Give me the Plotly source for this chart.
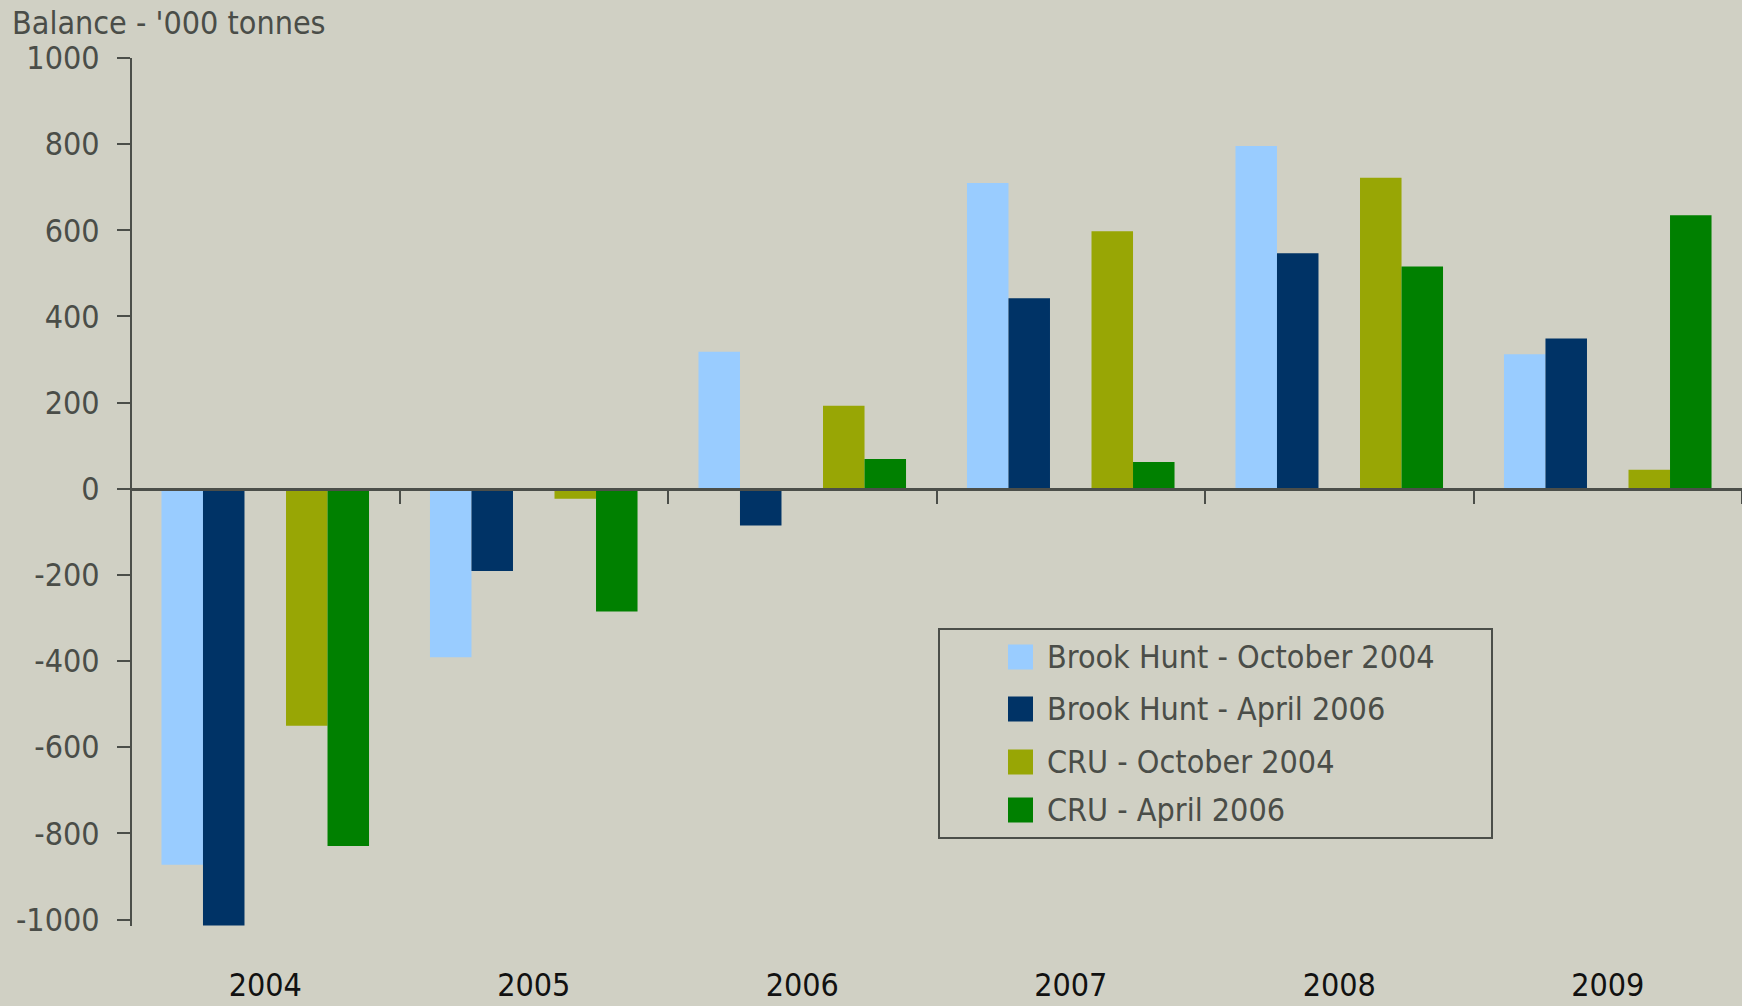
import plotly.graph_objects as go

# ---------------- data ----------------
years = ["2004", "2005", "2006", "2007", "2008", "2009"]
bh_oct04 = [-873, -391, 318, 710, 796, 312]
bh_apr06 = [-1014, -191, -85, 442, 547, 349]
cru_oct04 = [-550, -23, 193, 598, 722, 44]
cru_apr06 = [-829, -285, 69, 62, 516, 635]
series_names = ["Brook Hunt - October 2004", "Brook Hunt - April 2006",
                "CRU - October 2004", "CRU - April 2006"]
y_tick_values = [-1000, -800, -600, -400, -200, 0, 200, 400, 600, 800, 1000]
y_tick_labels = ["-1000", "-800", "-600", "-400", "-200", "0",
                 "200", "400", "600", "800", "1000"]
y_title = "Balance - '000 tonnes"

# ---------------- style ----------------
colors = ["#99CCFF", "#003366", "#98A605", "#008000"]
BG = "#D0D0C4"
AXIS = "#4B4E49"
TXT = "#4A4D48"
FONT = "DejaVu Sans Condensed, Liberation Sans Narrow, sans-serif"
FS = 32

W, H = 1742, 1006
L, R, T, B = 131, 0, 58, 80
YMIN, YMAX = -1015, 1000


def px_x(px):
    return (px - L) / (W - L - R)


def px_y(py):
    return 1 - (py - T) / (H - T - B)


fig = go.Figure()
series_vals = [bh_oct04, bh_apr06, cru_oct04, cru_apr06]
for i in range(2):
    fig.add_trace(go.Bar(x=years, y=series_vals[i], name=series_names[i],
                         marker=dict(color=colors[i], line=dict(width=0)),
                         showlegend=False))
# empty slot between the Brook Hunt pair and the CRU pair
fig.add_trace(go.Bar(x=years, y=[None] * len(years), showlegend=False,
                     hoverinfo="skip", marker=dict(color="rgba(0,0,0,0)")))
for i in range(2, 4):
    fig.add_trace(go.Bar(x=years, y=series_vals[i], name=series_names[i],
                         marker=dict(color=colors[i], line=dict(width=0)),
                         showlegend=False))

zero_frac = (0 - YMIN) / (YMAX - YMIN)

fig.update_layout(
    width=W, height=H,
    margin=dict(l=L, r=R, t=T, b=B, autoexpand=False),
    paper_bgcolor=BG, plot_bgcolor=BG,
    barmode="group", bargap=0.227, bargroupgap=0,
    font=dict(family=FONT, size=FS, color=TXT),
    title=dict(text=y_title, x=12 / W, xanchor="left", xref="container",
               y=1 - 23 / H, yanchor="middle", yref="container",
               font=dict(family=FONT, size=FS, color=TXT)),
    xaxis=dict(type="category", anchor="free", position=zero_frac,
               showline=True, linecolor=AXIS, linewidth=3,
               ticks="outside", tickson="boundaries", ticklen=13, tickwidth=2,
               tickcolor=AXIS, showgrid=False, zeroline=False,
               tickfont=dict(family=FONT, size=FS, color="#111111"),
               ticklabelstandoff=467),
    yaxis=dict(anchor="free", position=0, range=[YMIN, YMAX],
               tickmode="array", tickvals=y_tick_values, ticktext=y_tick_labels,
               showline=True, linecolor=AXIS, linewidth=2,
               ticks="outside", ticklen=13, tickwidth=2, tickcolor=AXIS,
               showgrid=False, zeroline=False,
               tickfont=dict(family=FONT, size=FS, color=TXT),
               ticklabelstandoff=11),
)

# ---------------- legend (drawn box) ----------------
shapes = [dict(type="rect", xref="paper", yref="paper",
               x0=px_x(939), x1=px_x(1492), y0=px_y(838), y1=px_y(629),
               line=dict(color=AXIS, width=2), fillcolor="rgba(0,0,0,0)")]
annotations = []
row_y = [657, 709, 762, 810]
for i, name in enumerate(series_names):
    cy = row_y[i]
    shapes.append(dict(type="rect", xref="paper", yref="paper",
                       x0=px_x(1008), x1=px_x(1033),
                       y0=px_y(cy + 12.5), y1=px_y(cy - 12.5),
                       line=dict(width=0), fillcolor=colors[i]))
    annotations.append(dict(xref="paper", yref="paper", x=px_x(1045), y=px_y(cy),
                            xanchor="left", yanchor="middle", showarrow=False,
                            text=name, font=dict(family=FONT, size=FS, color=TXT)))
fig.update_layout(shapes=shapes, annotations=annotations)

fig.write_html("out.html", config={"displayModeBar": False},
               post_script="document.body.style.margin='0px';document.body.style.padding='0px';")
